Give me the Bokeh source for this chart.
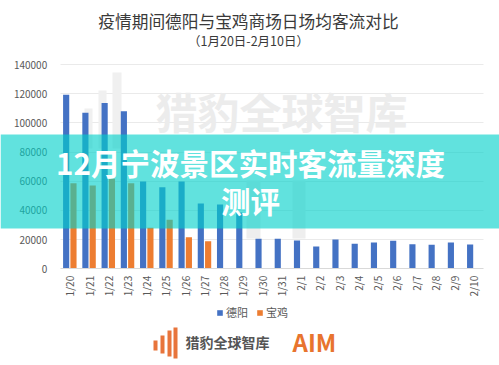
from bokeh.plotting import figure
from bokeh.models import (ColumnDataSource, Range1d, Label, BoxAnnotation, Legend, LegendItem,
                          SingleIntervalTicker, FixedTicker, BasicTickFormatter, LinearAxis, Grid)
from bokeh.transform import dodge
from bokeh.embed import file_html
from bokeh.resources import INLINE
import math

# ---------------- data ----------------
dates = ["1/20", "1/21", "1/22", "1/23", "1/24", "1/25", "1/26", "1/27", "1/28", "1/29",
         "1/30", "1/31", "2/1", "2/2", "2/3", "2/4", "2/5", "2/6", "2/7", "2/8", "2/9", "2/10"]
deyang = [119200, 106900, 113700, 108000, 59800, 55900, 59800, 44700, 44000, 38600,
          20600, 20600, 19400, 15300, 20100, 17100, 18000, 19200, 16900, 16400, 18000, 16600]
baoji = [58600, 57000, 61700, 58600, 28100, 33600, 21600, 18900, 0, 0,
         0, 0, 0, 0, 0, 0, 0, 0, 0, 0, 0, 0]
series_names = ["德阳", "宝鸡"]
y_max = 140000
y_step = 20000
title_text = "疫情期间德阳与宝鸡商场日场均客流对比"
subtitle_text = "（1月20日-2月10日）"
banner_lines = ["12月宁波景区实时客流量深度", "测评"]
watermark_text = "猎豹全球智库"
logo_text = "猎豹全球智库"
logo_brand = "AIM"

FONT = "Noto Sans CJK SC"
BLUE = "#4472C4"
ORANGE = "#ED7D31"

# ---------------- layout constants (pixels in the canvas) ----------------
W, H = 499, 365
PLOT_L, PLOT_R = 59.7, 482.9      # category area
PLOT_T, PLOT_B = 64.0, 268.3      # y_max line and zero line

n = len(dates)
idx = list(range(n))
band = (PLOT_R - PLOT_L) / n
x_start = -0.5 - PLOT_L / band
x_end = (n - 0.5) + (W - PLOT_R) / band
upp = y_max / (PLOT_B - PLOT_T)
y_start = -(H - PLOT_B) * upp
y_end = y_max + PLOT_T * upp

src = ColumnDataSource(dict(idx=idx, date=dates, deyang=deyang, baoji=baoji))

p = figure(width=W, height=H, output_backend="svg", toolbar_location=None,
           x_axis_type=None, y_axis_type=None,
           x_range=Range1d(x_start, x_end), y_range=Range1d(y_start, y_end),
           min_border_left=0, min_border_right=0, min_border_top=0, min_border_bottom=0)
p.outline_line_color = None
p.background_fill_color = "white"
p.border_fill_color = "white"

# ---------------- axes (fixed inside the canvas) ----------------
yaxis = LinearAxis(fixed_location=-0.5, bounds=(0, y_max),
                   ticker=SingleIntervalTicker(interval=y_step),
                   formatter=BasicTickFormatter(use_scientific=False))
yaxis.axis_line_color = None
yaxis.major_tick_line_color = None
yaxis.minor_tick_line_color = None
yaxis.major_tick_out = 0
yaxis.major_tick_in = 0
yaxis.major_label_standoff = 9
yaxis.major_label_text_font = FONT
yaxis.major_label_text_font_size = "10px"
yaxis.major_label_text_color = "#595959"
p.add_layout(yaxis, "left")

xaxis = LinearAxis(fixed_location=0, bounds=(-0.5, n - 0.5),
                   ticker=FixedTicker(ticks=idx),
                   major_label_overrides={i: d for i, d in zip(idx, dates)})
xaxis.axis_line_color = "#d9d9d9"
xaxis.major_tick_line_color = None
xaxis.minor_tick_line_color = None
xaxis.major_tick_out = 0
xaxis.major_tick_in = 0
xaxis.major_label_orientation = math.pi / 2
xaxis.major_label_standoff = 7
xaxis.major_label_text_font = FONT
xaxis.major_label_text_font_size = "10px"
xaxis.major_label_text_color = "#595959"
p.add_layout(xaxis, "below")

grid = Grid(dimension=1, ticker=yaxis.ticker, bounds=(y_step, y_max),
            cross_bounds=(-0.5, n - 0.5), grid_line_color="#eaeaea")
p.add_layout(grid)

# ---------------- watermark (below bars) ----------------
for (l, r, t) in [(84, 92, 108), (98, 106, 90), (112, 121, 72)]:
    p.add_layout(BoxAnnotation(left=l, right=r, top=t, bottom=148, left_units="canvas",
                               right_units="canvas", top_units="canvas", bottom_units="canvas",
                               fill_color="#f0f0f0", fill_alpha=1, line_color=None, level="underlay"))
for (l, r) in [(246, 260), (292, 305)]:
    p.add_layout(BoxAnnotation(left=l, right=r, top=180, bottom=238, left_units="canvas",
                               right_units="canvas", top_units="canvas", bottom_units="canvas",
                               fill_color="#eeeeee", fill_alpha=1, line_color=None, level="underlay"))
p.add_layout(Label(x=281, y=110, x_units="canvas", y_units="canvas", text=watermark_text,
                   text_font=FONT, text_font_size="42px", text_font_style="bold",
                   text_color="#ececec", text_align="center", text_baseline="middle",
                   level="underlay"))

# ---------------- bars ----------------
b1 = p.vbar(x=dodge("idx", -0.19), top="deyang", width=0.32,
            source=src, fill_color=BLUE, line_color=None)
b2 = p.vbar(x=dodge("idx", 0.19), top="baoji", width=0.32,
            source=src, fill_color=ORANGE, line_color=None)

# ---------------- legend ----------------
legend = Legend(items=[LegendItem(label=series_names[0], renderers=[b1]),
                       LegendItem(label=series_names[1], renderers=[b2])],
                location=(216, 45), orientation="horizontal",
                glyph_width=7, glyph_height=7, label_text_font=FONT,
                label_text_font_size="11px", label_text_color="#595959",
                label_standoff=3, spacing=8, padding=2, margin=0,
                border_line_color=None, background_fill_alpha=0, label_height=14)
p.add_layout(legend, "center")

# ---------------- titles ----------------
p.add_layout(Label(x=248, y=20, x_units="canvas", y_units="canvas", text=title_text,
                   text_font=FONT, text_font_size="16.7px", text_color="#3a3a3a",
                   text_align="center", text_baseline="middle"))
p.add_layout(Label(x=248, y=40, x_units="canvas", y_units="canvas", text=subtitle_text,
                   text_font=FONT, text_font_size="12.5px", text_color="#3a3a3a",
                   text_align="center", text_baseline="middle"))

# ---------------- bottom logo ----------------
for (l, r, t, b) in [(153, 157, 340, 350), (160, 164, 335, 353), (167, 171, 330, 356), (173, 177, 327, 358)]:
    p.add_layout(BoxAnnotation(left=l, right=r, top=t, bottom=b, left_units="canvas",
                               right_units="canvas", top_units="canvas", bottom_units="canvas",
                               fill_color="#e8743b", fill_alpha=1, line_color=None))
p.add_layout(Label(x=185, y=341, x_units="canvas", y_units="canvas", text=logo_text,
                   text_font=FONT, text_font_size="14px", text_font_style="bold",
                   text_color="#555555", text_align="left", text_baseline="middle"))
p.add_layout(Label(x=292, y=341, x_units="canvas", y_units="canvas", text=logo_brand,
                   text_font=FONT, text_font_size="24px", text_font_style="bold",
                   text_color="#e8742e", text_align="left", text_baseline="middle"))

# ---------------- banner overlay ----------------
p.add_layout(BoxAnnotation(left=0, right=W, top=134, bottom=228, left_units="canvas",
                           right_units="canvas", top_units="canvas", bottom_units="canvas",
                           fill_color="#00d0ca", fill_alpha=0.62, line_color=None,
                           level="overlay"))
p.add_layout(Label(x=250, y=161, x_units="canvas", y_units="canvas", text=banner_lines[0],
                   text_font=FONT, text_font_size="29.5px", text_font_style="bold",
                   text_color="white", text_align="center", text_baseline="middle",
                   level="overlay"))
p.add_layout(Label(x=250, y=199, x_units="canvas", y_units="canvas", text=banner_lines[1],
                   text_font=FONT, text_font_size="29.5px", text_font_style="bold",
                   text_color="white", text_align="center", text_baseline="middle",
                   level="overlay"))

open("out.html", "w").write(file_html(p, INLINE))
